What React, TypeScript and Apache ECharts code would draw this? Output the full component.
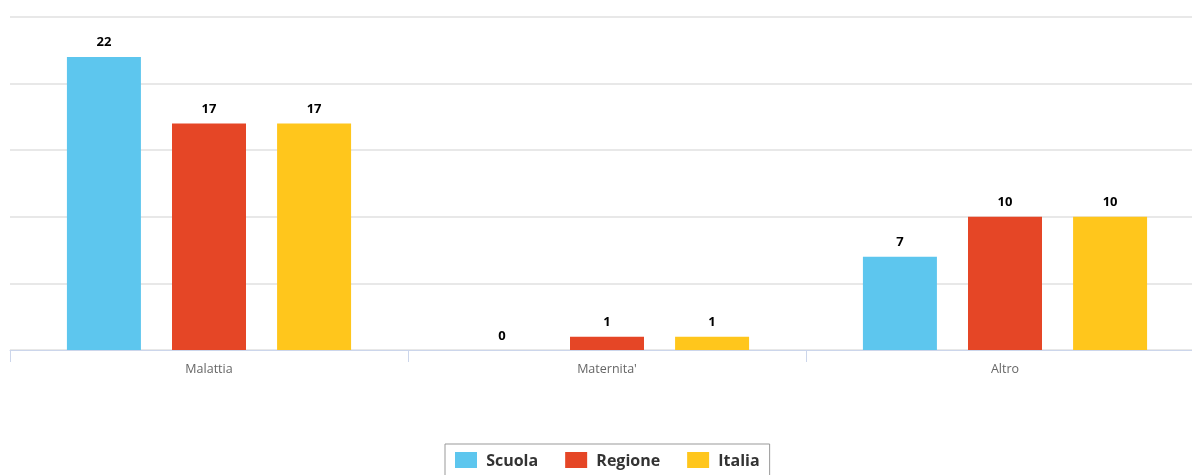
import React, { useEffect, useRef } from "react";
import * as echarts from "echarts";

const categories = ["Malattia", "Maternita'", "Altro"];
const scuola = [22, 0, 7];
const regione = [17, 1, 10];
const italia = [17, 1, 10];
const seriesNames = ["Scuola", "Regione", "Italia"];
const colors = ["#5DC6EE", "#E54626", "#FFC61C"];

export default function App() {
  const ref = useRef<HTMLDivElement>(null);
  useEffect(() => {
    if (!ref.current) return;
    const chart = echarts.init(ref.current, undefined, { renderer: "svg" });
    const font = "'Open Sans', 'Noto Sans', sans-serif";
    const values = [scuola, regione, italia];
    chart.setOption({
      animation: false,
      textStyle: { fontFamily: font },
      grid: { left: 10, right: 0, top: 17, bottom: 125, containLabel: false },
      legend: {
        data: seriesNames,
        top: 444,
        left: 445,
        itemWidth: 22,
        itemHeight: 16,
        itemGap: 27,
        borderColor: "#999999",
        borderWidth: 1,
        padding: [8, 10, 8, 10],
        icon: "rect",
        formatter: (n: string) => " " + n,
        textStyle: { fontSize: 16, fontWeight: "bold", color: "#333333", fontFamily: font },
      },
      xAxis: {
        type: "category",
        data: categories,
        axisLine: { lineStyle: { color: "#ccd6eb", width: 1 } },
        axisTick: { show: true, length: 12, lineStyle: { color: "#ccd6eb" } },
        axisLabel: { color: "#666666", fontSize: 12.5, margin: 12, fontFamily: font },
      },
      yAxis: {
        type: "value",
        min: 0,
        max: 25,
        interval: 5,
        axisLabel: { show: false },
        axisLine: { show: false },
        axisTick: { show: false },
        splitLine: { lineStyle: { color: "#e8e8e8", width: 2 } },
      },
      series: seriesNames.map((name, i) => ({
        name,
        type: "bar",
        data: values[i],
        barWidth: 74,
        barGap: "42%",
        itemStyle: { color: colors[i] },
        label: {
          show: true,
          position: "top",
          distance: 9,
          fontSize: 13,
          fontWeight: "bold",
          color: "#000000",
          fontFamily: font,
        },
      })),
    });
    return () => chart.dispose();
  }, []);
  return (
    <div style={{ position: "fixed", left: 0, top: 0, width: 1192, height: 475, overflow: "hidden" }}>
      <div ref={ref} style={{ width: 1204, height: 475 }} />
    </div>
  );
}
